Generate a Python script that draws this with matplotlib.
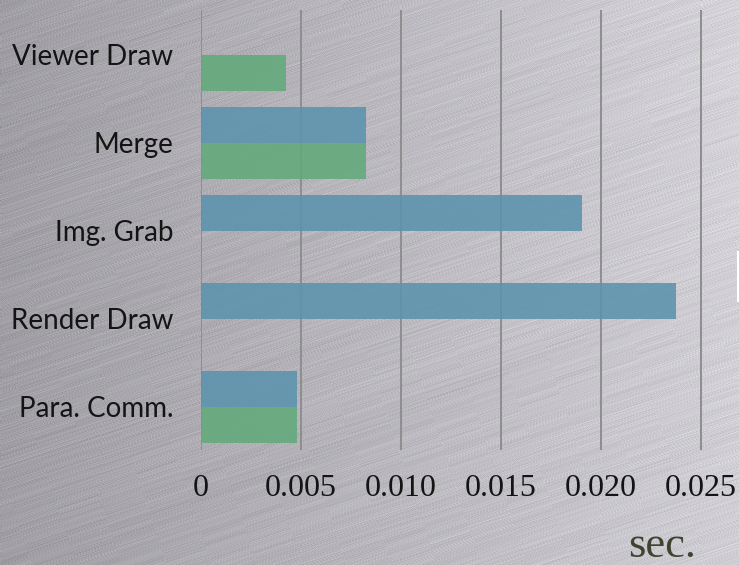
import numpy as np
import matplotlib
matplotlib.use('Agg')
import matplotlib.pyplot as plt
from matplotlib.patches import Rectangle

# data (bottom to top on the chart)
categories = ['Para. Comm.', 'Render Draw', 'Img. Grab', 'Merge', 'Viewer Draw']
render_sec = [0.0048, 0.02373, 0.01905, 0.00823, 0.0]
viewer_sec = [0.0048, 0.0, 0.0, 0.00823, 0.00425]
xticks = [0, 0.005, 0.010, 0.015, 0.020, 0.025]
xtick_labels = ['0', '0.005', '0.010', '0.015', '0.020', '0.025']

W, H = 739, 565
fig = plt.figure(figsize=(W / 100, H / 100), dpi=100)

# brushed metal background
yy, xx = np.mgrid[0:H, 0:W].astype(float)
u = yy + 0.33 * xx
v = xx - 0.33 * yy
tex_rng = np.random.default_rng(7)
n = int(u.max() * 3) + 50
l1 = tex_rng.normal(size=n)
l2 = tex_rng.normal(size=n)
l1 = np.convolve(l1, np.ones(2) / 2, mode='same')
idx = (u * 3).astype(int)
seg = ((v + 200) / 45).astype(int)
streak = 0.7 * l1[idx] + 0.7 * l2[(idx + seg * 13) % n]
base = 160 + 48 * (xx / W) + 6 * (1 - yy / H) * (xx / W)
val = base + 6.5 * streak
img = np.stack([val, val - 1.5, val + 4], axis=-1)
img = np.clip(img, 0, 255) / 255.0

bg = fig.add_axes([0, 0, 1, 1], zorder=0)
bg.imshow(img, aspect='auto', interpolation='bilinear')
bg.axis('off')

ax = fig.add_axes([201 / W, 1 - 450 / H, 1 - 201 / W, 440 / H], zorder=1)
ax.patch.set_alpha(0)

y = np.arange(len(categories))
h = 0.41
ax.barh(y + h / 2, render_sec, height=h, color='#5b93ae', alpha=0.88,
        label='Render', zorder=3)
ax.barh(y - h / 2, viewer_sec, height=h, color='#62aa7b', alpha=0.88,
        label='Viewer', zorder=3)

ax.set_xlim(0, 0.0269)
ax.set_ylim(-0.49, 4.51)
ax.set_xticks(xticks)
ax.set_xticklabels(xtick_labels, family='Liberation Serif', fontsize=23)
ax.set_yticks(y)
ax.set_yticklabels(categories, family='Lato', fontsize=20)
ax.tick_params(axis='x', length=0, pad=17, colors='#141414')
ax.tick_params(axis='y', length=0, pad=20, colors='#141414')
ax.xaxis.grid(True, color='#8e8e8e', linewidth=1.4, zorder=1)
ax.set_axisbelow(True)
for s in ax.spines.values():
    s.set_visible(False)

# edge of a legend box cut off at the right border
fig.patches.append(Rectangle((737 / W, 1 - 302 / H), 0.01, 51 / H,
                             transform=fig.transFigure, facecolor='white',
                             edgecolor='none', zorder=5))

fig.text(662 / W, 1 - 557 / H, 'sec.', ha='center', va='baseline',
         family='Liberation Serif', fontsize=32, color='#3e4430')

fig.savefig('out.png', dpi=100)
